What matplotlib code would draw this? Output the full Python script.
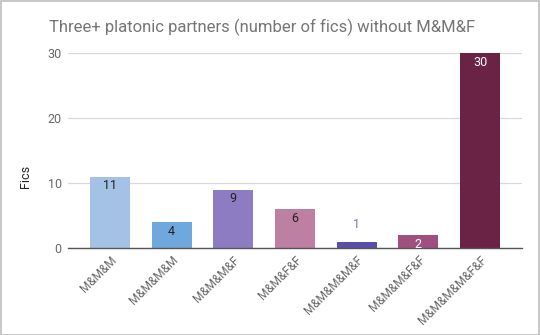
import matplotlib
matplotlib.use("Agg")
import matplotlib.pyplot as plt
from matplotlib.patches import Rectangle

categories = ["M&M&M", "M&M&M&M", "M&M&M&F", "M&M&F&F", "M&M&M&M&F", "M&M&M&F&F", "M&M&M&M&F&F"]
values = [11, 4, 9, 6, 1, 2, 30]
colors = ["#a4c2e6", "#6fa8dc", "#8e7cc3", "#bd7fa2", "#5a4fa8", "#a0507e", "#6a2245"]
label_colors = ["#222222", "#222222", "#222222", "#222222", "#7b72c4", "#ffffff", "#ffffff"]
yticks = [0, 10, 20, 30]

plt.rcParams['font.family'] = ['Roboto', 'DejaVu Sans']

fig = plt.figure(figsize=(5.4, 3.35), dpi=100)
fig.patch.set_facecolor("white")
fig.add_artist(Rectangle((0.5/540, 0.5/335), 1 - 1.5/540, 1 - 1.5/335, transform=fig.transFigure,
                         fill=False, edgecolor="#bdbdbd", linewidth=1.2))

ax = fig.add_axes([68/540, 1 - 248/335, (522 - 68)/540, (248 - 53)/335])
x = list(range(len(categories)))
bars = ax.bar(x, values, width=0.645, color=colors, zorder=3, clip_on=False)
ax.set_xlim(-0.68, len(categories) - 1 + 0.68)
ax.set_ylim(0, 30)
ax.set_yticks(yticks)
ax.set_yticklabels([str(t) for t in yticks], color="#666666", fontsize=9)
ax.yaxis.grid(True, color="#d9d9d9", linewidth=0.9, zorder=0)
ax.tick_params(axis="y", length=0, pad=4.5)
ax.tick_params(axis="x", length=0, pad=4)
for s in ["top", "right", "left"]:
    ax.spines[s].set_visible(False)
ax.spines["bottom"].set_color("#555555")
ax.spines["bottom"].set_linewidth(1.0)
ax.spines["bottom"].set_zorder(4)

ax.set_xticks(x)
ax.set_xticklabels(categories, rotation=45, ha="right", va="top", rotation_mode="anchor",
                   color="#666666", fontsize=8.5)

for xi, v, lc in zip(x, values, label_colors):
    if v >= 2:
        ax.annotate(str(v), (xi, v), xytext=(0, -6.5), textcoords="offset points",
                    ha="center", va="center", fontsize=9, color=lc, zorder=5)
    else:
        ax.annotate(str(v), (xi, v), xytext=(0, 12.5), textcoords="offset points",
                    ha="center", va="center", fontsize=9, color=lc, zorder=5)

fig.text(26/540, 1 - 176/335, "Fics", rotation=90, ha="center", va="center",
         color="#222222", fontsize=9)
fig.text(262/540, 1 - 27/335, "Three+ platonic partners (number of fics) without M&M&F",
         ha="center", va="center", color="#757575", fontsize=12)

fig.savefig("out.png", dpi=100, facecolor="white")
